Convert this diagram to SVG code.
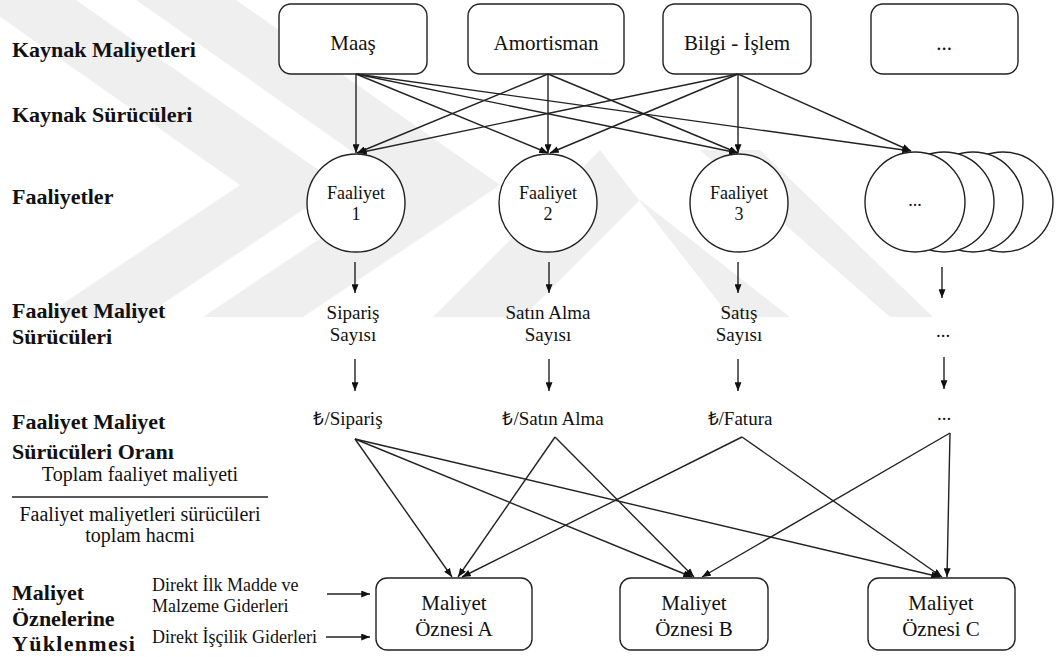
<svg xmlns="http://www.w3.org/2000/svg" width="1060" height="657" viewBox="0 0 1060 657">
  <style>
    .lbl { font-family: "Liberation Serif", "Times New Roman", serif; font-weight: bold; font-size: 22px; fill: #111; }
    .box { fill: #fff; stroke: #222; stroke-width: 1.4; }
    .boxt { font-family: "Liberation Serif", "Times New Roman", serif; font-size: 21px; fill: #111; text-anchor: middle; }
    .circ { fill: #fff; stroke: #222; stroke-width: 1.4; }
    .ct { font-family: "Liberation Serif", "Times New Roman", serif; font-size: 18px; fill: #111; text-anchor: middle; }
    .dt { font-family: "Liberation Serif", "Times New Roman", serif; font-size: 19px; fill: #111; text-anchor: middle; }
    .ft { font-family: "Liberation Serif", "Times New Roman", serif; font-size: 20px; fill: #111; text-anchor: middle; }
    .st { font-family: "Liberation Serif", "Times New Roman", serif; font-size: 18px; fill: #111; }
    .edge { stroke: #222; stroke-width: 1.4; fill: none; marker-end: url(#arrow); }
    .wm { fill: #efefef; }
  </style>
  <defs>
    <marker id="arrow" viewBox="0 0 10 8" refX="10" refY="4" markerWidth="9" markerHeight="7" markerUnits="userSpaceOnUse" orient="auto">
      <path d="M0,0 L10,4 L0,8 z" fill="#111"/>
    </marker>
  </defs>

  <rect width="1060" height="657" fill="#fff"/>

  <!-- faint background emblem -->
  <g id="emblem">
    <polygon class="wm" points="-24,0 76,0 340,185 143,317 43,317 240,185"/>
    <polygon class="wm" points="136,0 236,0 500,185 303,317 203,317 400,185"/>
    <polygon class="wm" points="433,317 523,317 640,200 790,317 730,317 600,150"/>
    <polygon class="wm" points="700,150 760,150 933,317 890,317"/>
  </g>

  <!-- row labels -->
  <g id="row-labels">
    <text class="lbl" x="12" y="57">Kaynak Maliyetleri</text>
    <text class="lbl" x="12" y="122">Kaynak Sürücüleri</text>
    <text class="lbl" x="12" y="204">Faaliyetler</text>
    <text class="lbl" x="12" y="318">Faaliyet Maliyet</text>
    <text class="lbl" x="12" y="344">Sürücüleri</text>
    <text class="lbl" x="12" y="429">Faaliyet Maliyet</text>
    <text class="lbl" x="12" y="459">Sürücüleri Oranı</text>
    <text class="lbl" x="12" y="600">Maliyet</text>
    <text class="lbl" x="12" y="626">Öznelerine</text>
    <text class="lbl" x="12" y="651" letter-spacing="1.3">Yüklenmesi</text>
  </g>

  <!-- rate formula -->
  <g id="formula">
    <text class="ft" x="140" y="481">Toplam faaliyet maliyeti</text>
    <line x1="12" y1="497" x2="268" y2="497" stroke="#222" stroke-width="1.4"/>
    <text class="ft" x="140" y="521">Faaliyet maliyetleri sürücüleri</text>
    <text class="ft" x="140" y="542">toplam hacmi</text>
  </g>

  <!-- resource costs -->
  <g id="maas"><rect class="box" x="279" y="4" width="148" height="70" rx="12"/><text class="boxt" x="353" y="50">Maaş</text></g>
  <g id="amortisman"><rect class="box" x="468" y="4" width="156" height="70" rx="12"/><text class="boxt" x="546" y="50">Amortisman</text></g>
  <g id="bilgi-islem"><rect class="box" x="663" y="4" width="148" height="70" rx="12"/><text class="boxt" x="737" y="50">Bilgi - İşlem</text></g>
  <g id="kaynak-diger"><rect class="box" x="871" y="4" width="147" height="70" rx="12"/><text class="boxt" x="944" y="50">...</text></g>

  <!-- activities -->
  <g id="faaliyet-1"><circle class="circ" cx="356" cy="203" r="49"/><text class="ct" x="356" y="199">Faaliyet</text><text class="ct" x="356" y="220">1</text></g>
  <g id="faaliyet-2"><circle class="circ" cx="548" cy="203" r="49"/><text class="ct" x="548" y="199">Faaliyet</text><text class="ct" x="548" y="220">2</text></g>
  <g id="faaliyet-3"><circle class="circ" cx="739" cy="203" r="49"/><text class="ct" x="739" y="199">Faaliyet</text><text class="ct" x="739" y="220">3</text></g>
  <g id="faaliyet-diger">
    <circle class="circ" cx="1003" cy="202" r="50"/>
    <circle class="circ" cx="973" cy="202" r="50"/>
    <circle class="circ" cx="944" cy="202" r="50"/>
    <circle class="circ" cx="915" cy="202" r="50"/>
    <text class="ct" x="915" y="206">...</text>
  </g>

  <!-- activity cost drivers -->
  <g id="surucu-1"><text class="dt" x="353" y="319">Sipariş</text><text class="dt" x="353" y="341">Sayısı</text></g>
  <g id="surucu-2"><text class="dt" x="548" y="319">Satın Alma</text><text class="dt" x="548" y="341">Sayısı</text></g>
  <g id="surucu-3"><text class="dt" x="739" y="319">Satış</text><text class="dt" x="739" y="341">Sayısı</text></g>
  <g id="surucu-diger"><text class="dt" x="943" y="337">...</text></g>

  <!-- driver rates -->
  <g id="oran-1"><text class="dt" x="348" y="425">₺/Sipariş</text></g>
  <g id="oran-2"><text class="dt" x="553" y="425">₺/Satın Alma</text></g>
  <g id="oran-3"><text class="dt" x="740" y="425">₺/Fatura</text></g>
  <g id="oran-diger"><text class="dt" x="944" y="420">...</text></g>

  <!-- direct costs -->
  <g id="direkt-madde"><text class="st" x="152" y="591">Direkt İlk Madde ve</text><text class="st" x="152" y="612">Malzeme Giderleri</text></g>
  <g id="direkt-iscilik"><text class="st" x="152" y="643">Direkt İşçilik Giderleri</text></g>

  <!-- cost objects -->
  <g id="ozne-a"><rect class="box" x="376" y="578" width="156" height="72" rx="11"/><text class="boxt" x="454" y="610">Maliyet</text><text class="boxt" x="454" y="636">Öznesi A</text></g>
  <g id="ozne-b"><rect class="box" x="620" y="578" width="148" height="72" rx="11"/><text class="boxt" x="694" y="610">Maliyet</text><text class="boxt" x="694" y="636">Öznesi B</text></g>
  <g id="ozne-c"><rect class="box" x="868" y="578" width="147" height="72" rx="11"/><text class="boxt" x="941" y="610">Maliyet</text><text class="boxt" x="941" y="636">Öznesi C</text></g>

  <!-- connectors -->
  <g id="connectors">
    <!-- resources to activities -->
    <line class="edge" x1="356" y1="74" x2="356" y2="153"/>
    <line class="edge" x1="356" y1="74" x2="548" y2="153"/>
    <line class="edge" x1="356" y1="74" x2="738" y2="153"/>
    <line class="edge" x1="356" y1="74" x2="911" y2="151"/>
    <line class="edge" x1="548" y1="74" x2="357" y2="153"/>
    <line class="edge" x1="548" y1="74" x2="548" y2="153"/>
    <line class="edge" x1="548" y1="74" x2="738" y2="153"/>
    <line class="edge" x1="738" y1="74" x2="358" y2="153"/>
    <line class="edge" x1="738" y1="74" x2="550" y2="153"/>
    <line class="edge" x1="738" y1="74" x2="738" y2="153"/>
    <line class="edge" x1="738" y1="74" x2="911" y2="151"/>

    <!-- activities to drivers to rates -->
    <line class="edge" x1="355" y1="262" x2="355" y2="293"/>
    <line class="edge" x1="549" y1="262" x2="549" y2="293"/>
    <line class="edge" x1="738" y1="262" x2="738" y2="293"/>
    <line class="edge" x1="942" y1="267" x2="942" y2="298"/>
    <line class="edge" x1="355" y1="359" x2="355" y2="391"/>
    <line class="edge" x1="549" y1="359" x2="549" y2="391"/>
    <line class="edge" x1="738" y1="359" x2="738" y2="391"/>
    <line class="edge" x1="944" y1="357" x2="944" y2="389"/>

    <!-- rates to cost objects -->
    <line class="edge" x1="355" y1="439" x2="452" y2="577"/>
    <line class="edge" x1="355" y1="439" x2="692" y2="577"/>
    <line class="edge" x1="355" y1="439" x2="940" y2="577"/>
    <line class="edge" x1="555" y1="437" x2="458" y2="577"/>
    <line class="edge" x1="555" y1="437" x2="694" y2="577"/>
    <line class="edge" x1="742" y1="437" x2="462" y2="577"/>
    <line class="edge" x1="742" y1="437" x2="942" y2="577"/>
    <line class="edge" x1="950" y1="433" x2="702" y2="577"/>
    <line class="edge" x1="950" y1="433" x2="947" y2="577"/>

    <!-- direct costs to cost object A -->
    <line class="edge" x1="327" y1="594" x2="370" y2="594"/>
    <line class="edge" x1="326" y1="637" x2="370" y2="637"/>
  </g>
</svg>
